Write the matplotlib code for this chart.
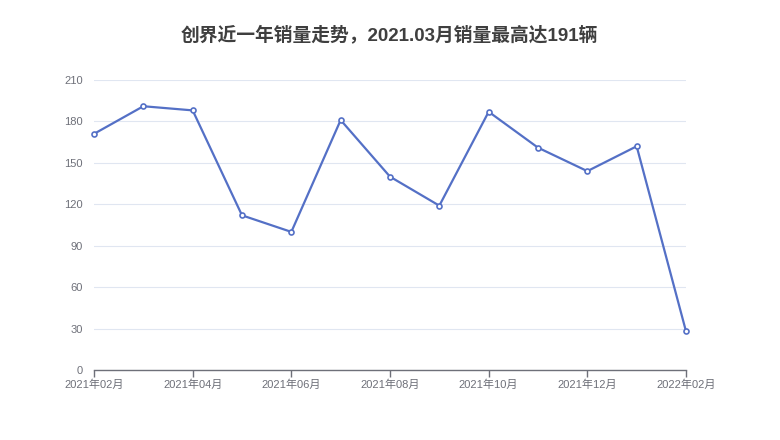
import matplotlib
matplotlib.use("Agg")
import matplotlib.pyplot as plt

plt.rcParams['font.family'] = ['Liberation Sans', 'Noto Sans CJK SC', 'DejaVu Sans']

# Data
months = ["2021年02月", "2021年03月", "2021年04月", "2021年05月", "2021年06月",
          "2021年07月", "2021年08月", "2021年09月", "2021年10月", "2021年11月",
          "2021年12月", "2022年01月", "2022年02月"]
sales = [171, 191, 188, 112, 100, 181, 140, 119, 187, 161, 144, 162, 28]
y_ticks = [0, 30, 60, 90, 120, 150, 180, 210]

fig = plt.figure(figsize=(7.8, 4.4), dpi=100)
ax = fig.add_axes([94 / 780, 70 / 440, 592 / 780, 290 / 440])

x = list(range(len(months)))
ax.plot(x, sales, color="#5470c6", linewidth=1.6, marker="o", markersize=3.6,
        markerfacecolor="white", markeredgecolor="#5470c6", markeredgewidth=1.2,
        zorder=3, clip_on=False)

ax.set_xlim(0, len(months) - 1)
ax.set_ylim(0, 210)
ax.set_yticks(y_ticks)
ax.set_xticks(x[::2])
ax.set_xticklabels(months[::2])

ax.grid(axis="y", color="#e0e6f1", linewidth=0.8)
ax.set_axisbelow(True)
for side in ["top", "right", "left"]:
    ax.spines[side].set_visible(False)
ax.spines["bottom"].set_color("#6e7079")
ax.spines["bottom"].set_linewidth(1)

ax.tick_params(axis="x", colors="#6e7079", labelcolor="#6e7079", length=5,
               width=1, labelsize=8, pad=2)
ax.tick_params(axis="y", length=0, labelcolor="#6e7079", labelsize=8, pad=8)

fig.suptitle("创界近一年销量走势，2021.03月销量最高达191辆", x=389 / 780, y=1 - 35 / 440,
             va="center", fontsize=13.5, fontweight="bold", color="#3f3f3f")

fig.savefig("out.png", dpi=100)
